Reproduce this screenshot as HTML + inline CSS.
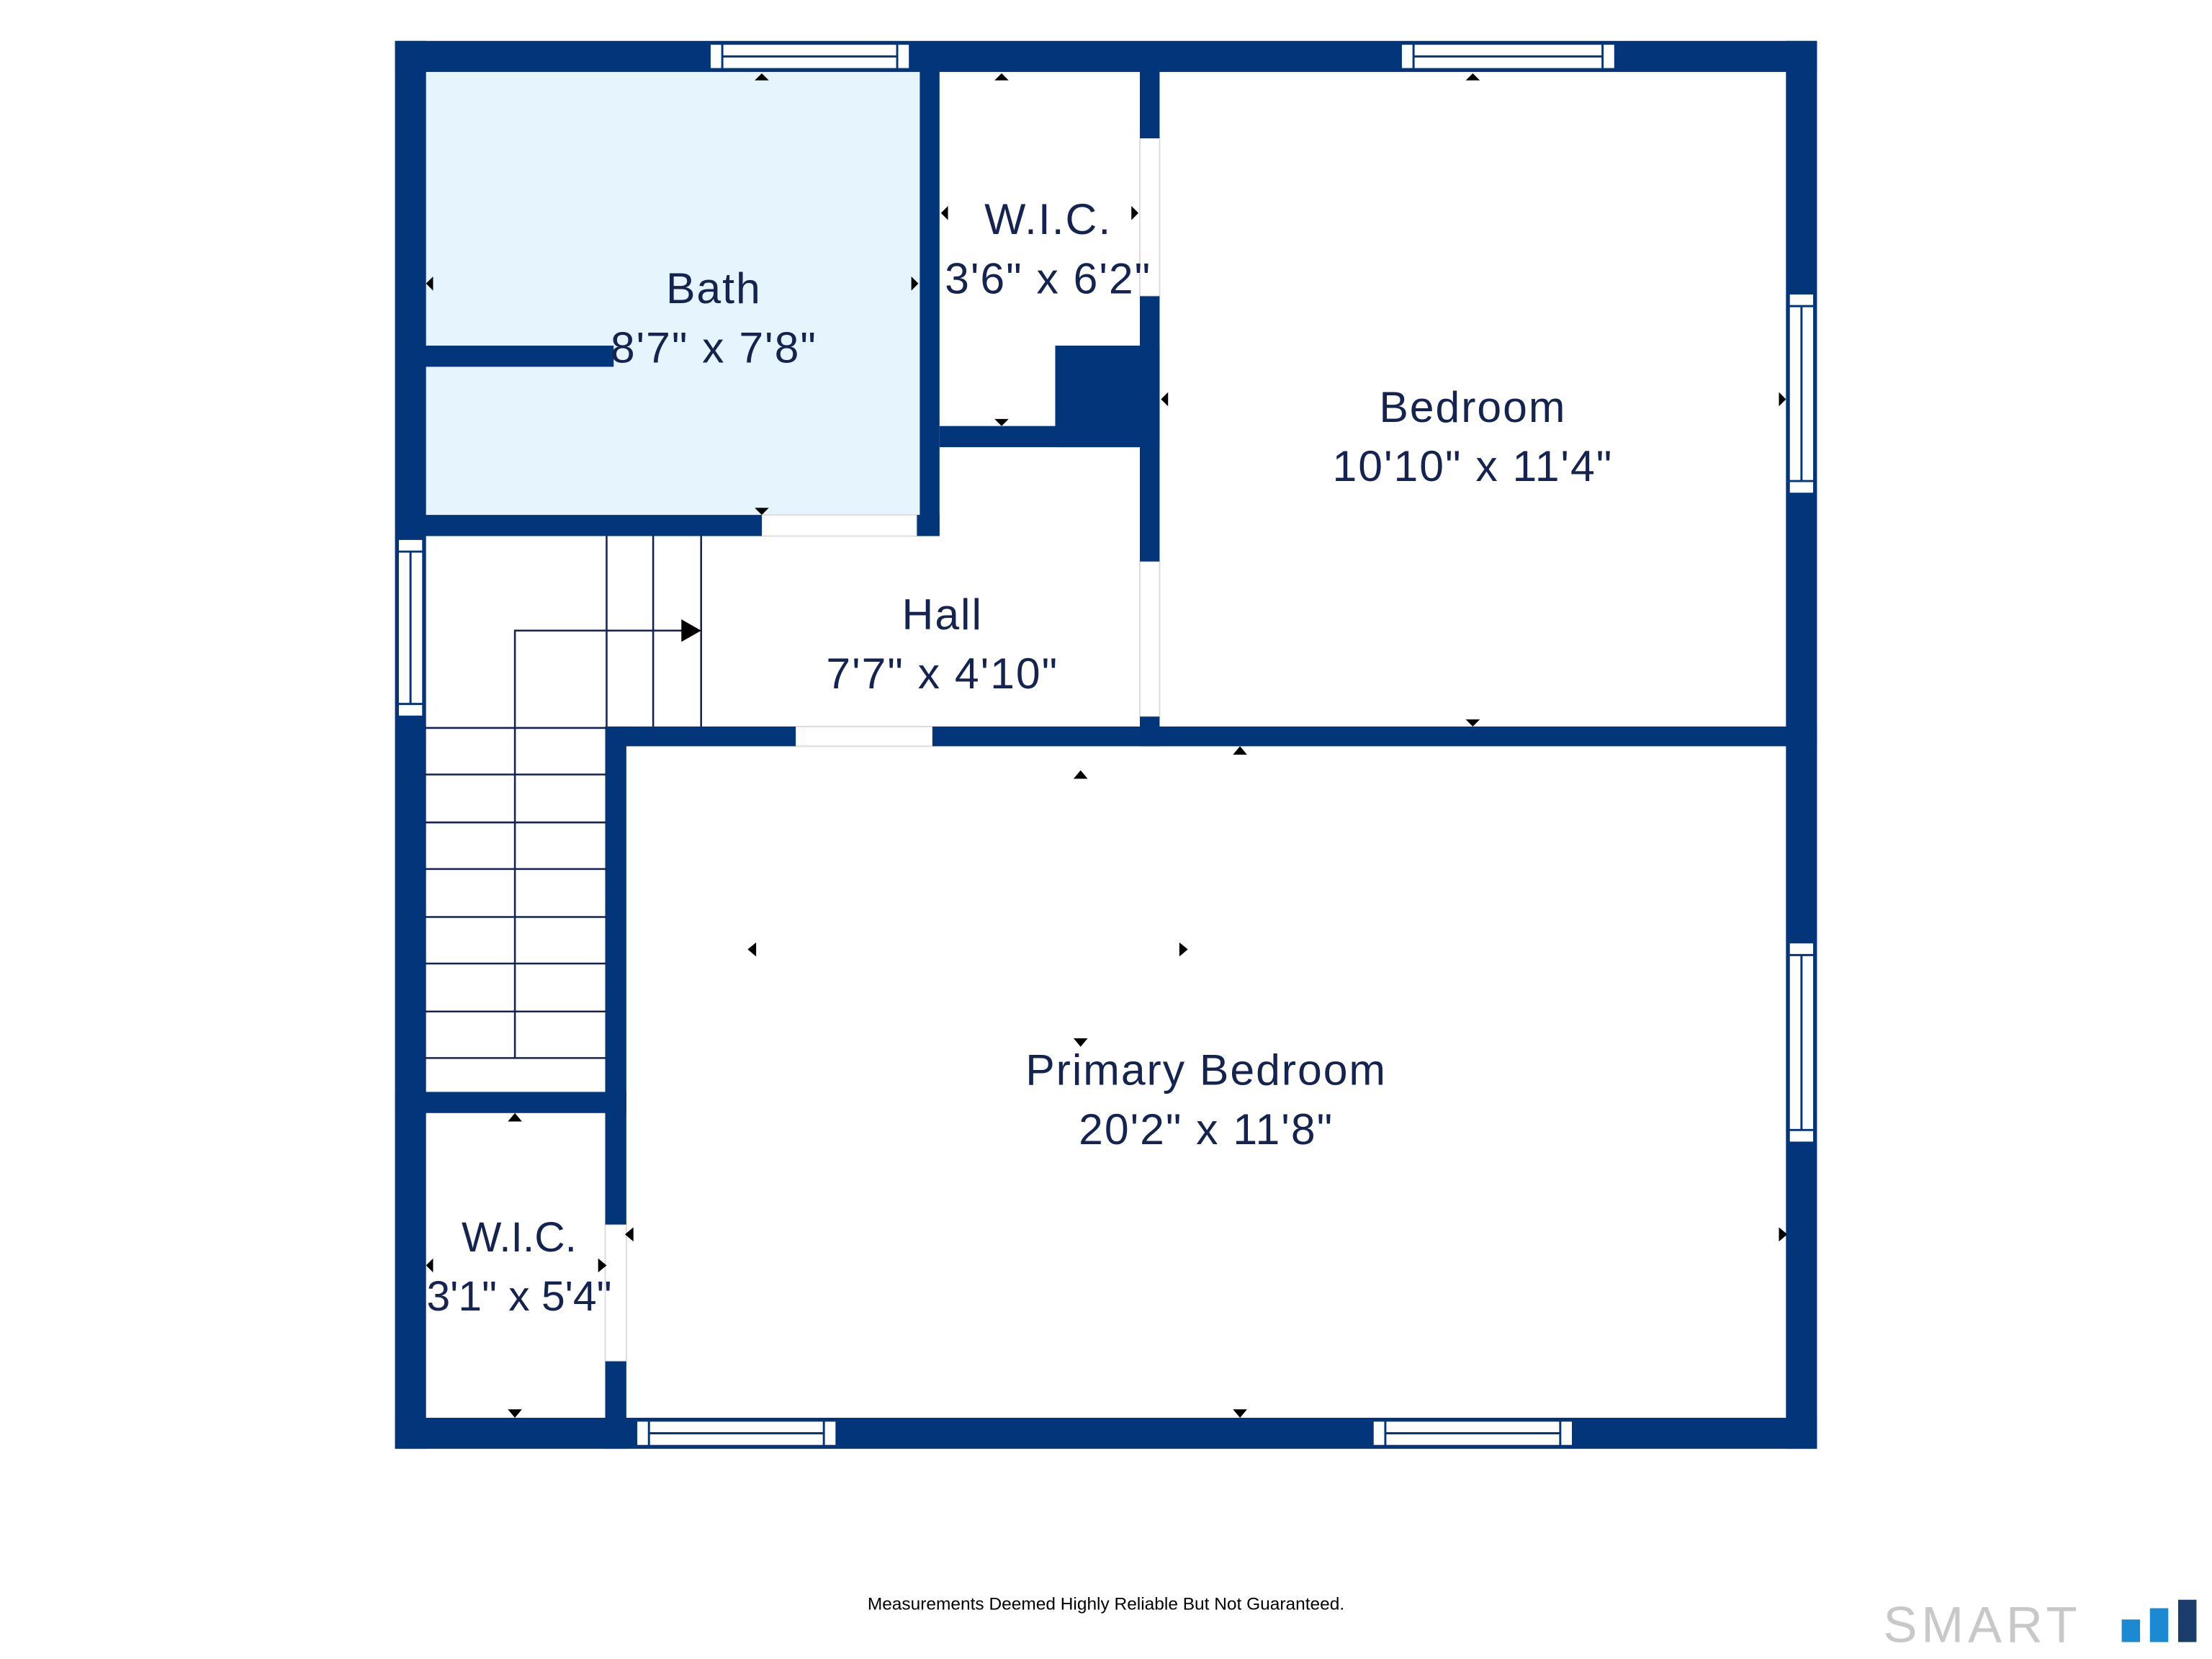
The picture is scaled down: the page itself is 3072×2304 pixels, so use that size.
<!DOCTYPE html>
<html><head><meta charset="utf-8"><style>
html,body{margin:0;padding:0;background:#fff;}
svg{display:block;}
text{font-family:"Liberation Sans",sans-serif;fill:#14234f;}
</style></head><body>
<svg width="3072" height="2304" viewBox="0 0 1568 1176" xmlns="http://www.w3.org/2000/svg">
<rect width="1568" height="1176" fill="#fff"/>
<rect x="301" y="50" width="351" height="315" fill="#e6f4fd"/>
<g fill="none" stroke="#dcdcdc" stroke-width="1">
<rect x="540" y="365" width="110" height="15"/>
<rect x="808" y="98" width="14" height="112"/>
<rect x="808" y="398" width="14" height="110"/>
<rect x="564" y="515" width="97" height="14"/>
<rect x="429" y="868" width="15" height="97"/>
</g>
<g fill="#03357a">
<rect x="280" y="29" width="1008" height="22"/>
<rect x="280" y="1005" width="1008" height="22"/>
<rect x="280" y="29" width="22" height="998"/>
<rect x="1266" y="29" width="22" height="998"/>
<rect x="652" y="50" width="14" height="330"/>
<rect x="301" y="365" width="239" height="15"/>
<rect x="650" y="365" width="16" height="15"/>
<rect x="301" y="245" width="134" height="15"/>
<rect x="808" y="50" width="14" height="48"/>
<rect x="808" y="210" width="14" height="188"/>
<rect x="666" y="302" width="142" height="15"/>
<rect x="748" y="245" width="74" height="72"/>
<rect x="808" y="508" width="14" height="21"/>
<rect x="430" y="515" width="134" height="14"/>
<rect x="661" y="515" width="627" height="14"/>
<rect x="429" y="515" width="15" height="353"/>
<rect x="429" y="965" width="15" height="62"/>
<rect x="280" y="774" width="164" height="15"/>
</g>
<g fill="#fff" stroke="#03357a" stroke-width="1.5">
<rect x="503" y="31" width="142" height="18"/><line x1="512" y1="40" x2="636" y2="40"/><line x1="512" y1="31" x2="512" y2="49"/><line x1="636" y1="31" x2="636" y2="49"/>
<rect x="993" y="31" width="152" height="18"/><line x1="1002" y1="40" x2="1136" y2="40"/><line x1="1002" y1="31" x2="1002" y2="49"/><line x1="1136" y1="31" x2="1136" y2="49"/>
<rect x="451" y="1007" width="142" height="18"/><line x1="460" y1="1016" x2="584" y2="1016"/><line x1="460" y1="1007" x2="460" y2="1025"/><line x1="584" y1="1007" x2="584" y2="1025"/>
<rect x="973" y="1007" width="142" height="18"/><line x1="982" y1="1016" x2="1106" y2="1016"/><line x1="982" y1="1007" x2="982" y2="1025"/><line x1="1106" y1="1007" x2="1106" y2="1025"/>
<rect x="1268" y="208" width="18" height="142"/><line x1="1277" y1="217" x2="1277" y2="341"/><line x1="1268" y1="217" x2="1286" y2="217"/><line x1="1268" y1="341" x2="1286" y2="341"/>
<rect x="1268" y="668" width="18" height="142"/><line x1="1277" y1="677" x2="1277" y2="801"/><line x1="1268" y1="677" x2="1286" y2="677"/><line x1="1268" y1="801" x2="1286" y2="801"/>
<rect x="282" y="382" width="18" height="126"/><line x1="291" y1="391" x2="291" y2="499"/><line x1="282" y1="391" x2="300" y2="391"/><line x1="282" y1="499" x2="300" y2="499"/>
</g>
<g stroke="#14234f" stroke-width="1.3" fill="none">
<line x1="430" y1="380" x2="430" y2="515"/>
<line x1="463" y1="380" x2="463" y2="515"/>
<line x1="497" y1="380" x2="497" y2="515"/>
<line x1="301" y1="516" x2="430" y2="516"/>
<line x1="301" y1="549" x2="430" y2="549"/>
<line x1="301" y1="583" x2="430" y2="583"/>
<line x1="301" y1="616" x2="430" y2="616"/>
<line x1="301" y1="650" x2="430" y2="650"/>
<line x1="301" y1="683" x2="430" y2="683"/>
<line x1="301" y1="717" x2="430" y2="717"/>
<line x1="301" y1="750" x2="430" y2="750"/>
<polyline points="365,750 365,447 484,447"/>
</g>
<polygon points="483,439 497,447 483,455" fill="#000"/>
<g fill="#000">
<polygon points="535,57 545,57 540,52"/>
<polygon points="705,57 715,57 710,52"/>
<polygon points="1039,57 1049,57 1044,52"/>
<polygon points="535,360 545,360 540,365"/>
<polygon points="705,297 715,297 710,302"/>
<polygon points="1039,510 1049,510 1044,515"/>
<polygon points="307,196 307,206 302,201"/>
<polygon points="646,196 646,206 651,201"/>
<polygon points="672,146 672,156 667,151"/>
<polygon points="802,146 802,156 807,151"/>
<polygon points="828,278 828,288 823,283"/>
<polygon points="1261,278 1261,288 1266,283"/>
<polygon points="761,552 771,552 766,546"/>
<polygon points="874,535 884,535 879,529"/>
<polygon points="536,668 536,678 530,673"/>
<polygon points="836,668 836,678 842,673"/>
<polygon points="761,736 771,736 766,742"/>
<polygon points="449,870 449,880 443,875"/>
<polygon points="1261,870 1261,880 1267,875"/>
<polygon points="874,999 884,999 879,1005"/>
<polygon points="360,795 370,795 365,789"/>
<polygon points="360,999 370,999 365,1005"/>
<polygon points="307,892 307,902 302,897"/>
<polygon points="424,892 424,902 430,897"/>
</g>
<g font-size="31" text-anchor="middle" letter-spacing="1">
<text x="506" y="215">Bath</text><text x="506" y="257">8'7" x 7'8"</text>
<text x="743" y="166">W.I.C.</text><text x="743" y="208">3'6" x 6'2"</text>
<text x="1044" y="299">Bedroom</text><text x="1044" y="341">10'10" x 11'4"</text>
<text x="668" y="446">Hall</text><text x="668" y="488">7'7" x 4'10"</text>
<text x="855" y="769">Primary Bedroom</text><text x="855" y="811">20'2" x 11'8"</text>
</g>
<g font-size="30" text-anchor="middle">
<text x="368" y="887">W.I.C.</text><text x="368" y="929">3'1" x 5'4"</text>
</g>
<text x="784" y="1141" font-size="12.5" text-anchor="middle" style="fill:#000">Measurements Deemed Highly Reliable But Not Guaranteed.</text>
<text x="1335" y="1164" font-size="36" style="fill:#c8c8c8" letter-spacing="3">SMART</text>
<rect x="1504" y="1148" width="13" height="16" fill="#1b8ad3"/>
<rect x="1524" y="1140" width="13" height="24" fill="#1b8ad3"/>
<rect x="1544" y="1134" width="13" height="30" fill="#1c3d6b"/>
</svg>
</body></html>
